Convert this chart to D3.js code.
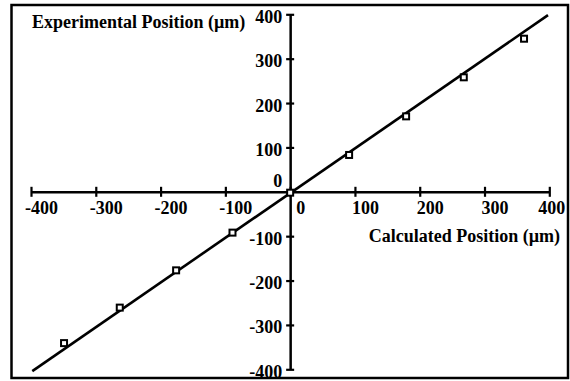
<!DOCTYPE html>
<html>
<head>
<meta charset="utf-8">
<script src="https://cdn.jsdelivr.net/npm/d3@7"></script>
<style>
  html, body { margin: 0; padding: 0; background: #fff; }
  svg { display: block; }
  text { font-family: "Liberation Serif", "Times New Roman", serif; font-weight: bold; font-size: 18px; fill: #000; }
</style>
</head>
<body>
<svg id="chart"></svg>
<script>
// measured (calculated) vs experimental positions, µm
const calcX = [-349, -263, -176, -89, 0, 91, 179, 268, 361];
const expY = [-341, -261, -177, -92, -2, 83, 170, 258, 345];

// fitted line end points
const fitX = [-398, 398];
const fitY = [-404, 398];

const xTicks = [-400, -300, -200, -100, 0, 100, 200, 300, 400];
const yTicks = [-400, -300, -200, -100, 0, 100, 200, 300, 400];

const xTitle = "Calculated Position (µm)";
const yTitle = "Experimental Position (µm)";

const width = 570, height = 381;
const svg = d3.select("#chart").attr("width", width).attr("height", height);

// frame
svg.append("rect")
    .attr("x", 11.5).attr("y", 5)
    .attr("width", 556.5).attr("height", 373)
    .attr("fill", "none")
    .attr("stroke", "#000")
    .attr("stroke-width", 2.5);

const x = d3.scaleLinear().domain([-400, 400]).range([31, 549.3]);
const y = d3.scaleLinear().domain([-400, 400]).range([369.3, 14.3]);

// plain hyphen for negatives, like the original
const fmt = d => String(d);

const xAxis = d3.axisBottom(x).tickValues(xTicks).tickFormat(fmt).tickSizeOuter(0);
const yAxis = d3.axisLeft(y).tickValues(yTicks).tickFormat(fmt).tickSizeOuter(0);

const gx = svg.append("g")
    .attr("transform", `translate(0, ${y(0)})`)
    .call(xAxis);

const gy = svg.append("g")
    .attr("transform", `translate(${x(0)}, 0)`)
    .call(yAxis);

[gx, gy].forEach(g => {
    g.attr("font-family", null).attr("font-size", null);
    g.select(".domain").attr("stroke", "#000").attr("stroke-width", 2.5);
    g.selectAll(".tick line").attr("stroke", "#000").attr("stroke-width", 2.2);
    g.selectAll(".tick text").attr("fill", "#000").attr("dy", null);
});

gx.selectAll(".tick line").attr("y1", -5).attr("y2", 5);
gx.selectAll(".tick text")
    .attr("text-anchor", "middle")
    .attr("y", 22)
    .attr("x", d => Math.min(10, x(400) + 2 - x(d)));

gy.selectAll(".tick line").attr("x1", -4).attr("x2", 4);
gy.selectAll(".tick text")
    .attr("text-anchor", "end")
    .attr("x", -8)
    .attr("y", d => d === 0 ? -5 : 8);

// fitted line
svg.append("path")
    .datum(d3.zip(fitX, fitY))
    .attr("fill", "none")
    .attr("stroke", "#000")
    .attr("stroke-width", 2.6)
    .attr("d", d3.line().x(d => x(d[0])).y(d => y(d[1])));

// data points as open squares
const pts = d3.zip(calcX, expY);
svg.selectAll(".point")
    .data(pts)
    .join("rect")
    .attr("class", "point")
    .attr("x", d => x(d[0]) - 3)
    .attr("y", d => y(d[1]) - 3)
    .attr("width", 6)
    .attr("height", 6)
    .attr("fill", "#fff")
    .attr("stroke", "#000")
    .attr("stroke-width", 2);

// axis titles
svg.append("text")
    .attr("x", 32).attr("y", 28)
    .text(yTitle);

svg.append("text")
    .attr("x", 560).attr("y", 242)
    .attr("text-anchor", "end")
    .text(xTitle);
</script>
</body>
</html>
